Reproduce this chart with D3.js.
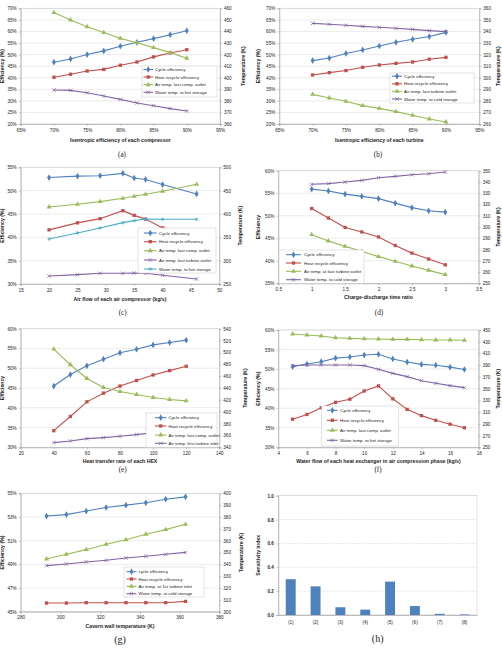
<!DOCTYPE html>
<html><head><meta charset="utf-8">
<script src="https://cdn.jsdelivr.net/npm/d3@7"></script>
<style>
body{margin:0;background:#fff}
svg{display:block}
text{font-family:"Liberation Sans",Arial,sans-serif;fill:#222}
</style></head><body>
<svg id="c" width="502" height="652"></svg>
<script>
// ---------- DATA ----------
// (a) isentropic efficiency of each compressor
const aX = [70,72.5,75,77.5,80,82.5,85,87.5,90];
const aCycle = [46.7,48.1,50.0,51.6,53.6,55.3,56.9,58.6,60.3];
const aHeat = [40.2,41.5,42.9,43.6,45.4,46.8,49.0,50.7,52.1];
const aAirOut = [456.3,449.9,444.1,439.0,434.0,430.3,426.0,421.7,416.8];
const aWater = [389.4,389.1,387.0,384.2,381.3,378.2,375.8,373.3,371.2];
// (b) isentropic efficiency of each turbine
const bX = [70,72.5,75,77.5,80,82.5,85,87.5,90];
const bCycle = [47.4,48.5,50.5,52.0,53.7,55.3,56.6,57.8,59.6];
const bHeat = [41.2,42.2,43.1,44.5,45.5,46.2,46.8,48.0,48.8];
const bAirOut = [285.6,282.5,279.6,275.9,273.5,270.7,267.5,264.3,261.7];
const bWater = [347.0,346.2,345.3,344.4,343.6,342.7,341.8,340.7,339.8];
// (c) air flow of each air compressor
const cX = [20,25,29,33,35,37,40,46];
const cCycle = [52.8,53.1,53.2,53.7,52.7,52.4,51.3,49.3];
const cHeat = [41.6,43.1,44.0,45.7,44.7,43.9,42.0,41.3];
const cAirComp = [415.0,420.7,426.4,433.6,437.9,442.1,448.6,463.6];
const cAirTurb = [267.1,270.0,272.9,272.9,273.6,272.9,268.6,260.7];
const cWater = [346.4,359.3,370.0,381.4,385.7,389.3,388.6,388.6];
// (d) charge-discharge time ratio
const dX = [1,1.25,1.5,1.75,2,2.25,2.5,2.75,3];
const dCycle = [55.9,55.5,54.8,54.3,53.8,52.8,51.8,51.1,50.8];
const dHeat = [51.6,49.5,47.4,46.4,45.3,43.4,41.7,40.4,39.1];
const dAirOut = [293.2,287.6,282.8,278.4,273.7,269.5,265.4,261.5,257.7];
const dWater = [337.9,338.5,339.9,341.4,343.8,345.0,346.4,347.3,348.8];
// (e) heat transfer rate of each HEX
const eX = [40,50,60,70,80,90,100,110,120];
const eCycle = [45.5,48.4,50.6,52.3,53.9,54.8,55.9,56.5,57.1];
const eHeat = [34.2,37.8,41.5,43.7,45.5,46.9,48.3,49.4,50.5];
const eAirComp = [505.6,479.2,456.1,440.8,434.1,429.0,424.0,420.6,418.3];
const eAirTurb = [347.9,350.7,354.6,356.3,358.6,361.4,364.8,365.9,367.6];
// (f) water flow of each heat exchanger in air compression phase
const fX = [5,6,7,8,9,10,11,12,13,14,15,16,17];
const fCycle = [50.6,51.3,51.9,52.8,53.1,53.6,53.8,52.6,51.8,51.2,51.0,50.5,49.9];
const fHeat = [37.2,38.4,40.1,41.5,42.3,44.4,45.7,42.4,39.7,38.1,36.9,35.9,35.0];
const fAirOut = [443.2,441.5,439.8,436.9,435.8,435.2,434.7,434.1,434.1,433.5,433.0,433.0,432.4];
const fWater = [389.2,390.3,390.3,390.3,390.3,389.2,383.0,376.1,370.5,363.6,359.1,355.1,351.7];
// (g) cavern wall temperature
const gX = [293,303,313,323,333,343,353,363];
const gCycle = [53.08,53.2,53.5,53.8,54.0,54.2,54.5,54.7];
const gHeat = [45.73,45.73,45.76,45.76,45.76,45.76,45.76,45.87];
const gAirIn = [344.5,348.5,352.4,356.9,360.8,365.4,369.3,373.8];
const gWater = [338.9,340.3,342.0,343.4,345.4,346.8,348.5,350.1];
// (h) sensitivity index
const hCats = ["(1)","(2)","(3)","(4)","(5)","(6)","(7)","(8)"];
const hVals = [0.30,0.24,0.065,0.045,0.28,0.075,0.01,0.005];

// ---------- STYLE ----------
const BLUE="#4f81bd", RED="#c0504d", GREEN="#9bbb59", PURPLE="#8064a2", CYAN="#4bacc6";
const svg = d3.select("#c");
const TF = 4.6; // tick font
const AF = 5.2; // axis title font
const LF = 4.4; // legend font

function marker(g, type, color, x, y){
  if(type==="diamond") g.append("path").attr("d", d3.symbol(d3.symbolDiamond, 13)()).attr("transform",`translate(${x},${y})`).attr("fill",color);
  else if(type==="square") g.append("path").attr("d", d3.symbol(d3.symbolSquare, 11)()).attr("transform",`translate(${x},${y})`).attr("fill",color);
  else if(type==="triangle") g.append("path").attr("d", d3.symbol(d3.symbolTriangle, 11)()).attr("transform",`translate(${x},${y})`).attr("fill",color);
  else if(type==="x") g.append("path").attr("d", d3.symbol(d3.symbolX, 10)()).attr("transform",`translate(${x},${y})`).attr("fill","none").attr("stroke",color).attr("stroke-width",0.7);
  else if(type==="star") g.append("path").attr("d", d3.symbol(d3.symbolAsterisk, 10)()).attr("transform",`translate(${x},${y})`).attr("fill","none").attr("stroke",color).attr("stroke-width",0.7);
}

function panel(p){
  const g = svg.append("g");
  const x = d3.scaleLinear().domain(p.xDom).range([p.L,p.R]);
  const yl = d3.scaleLinear().domain(p.lDom).range([p.B,p.T]);
  const yr = d3.scaleLinear().domain(p.rDom).range([p.B,p.T]);
  // gridlines
  g.selectAll(".gl").data(p.lTicks).join("line")
    .attr("x1",p.L).attr("x2",p.R).attr("y1",d=>yl(d)).attr("y2",d=>yl(d))
    .attr("stroke","#d9d9d9").attr("stroke-width",0.5);
  g.append("rect").attr("x",p.L).attr("y",p.T).attr("width",p.R-p.L).attr("height",p.B-p.T)
    .attr("fill","none").attr("stroke","#c8c8c8").attr("stroke-width",0.5);
  // axes
  const ax = d3.axisBottom(x).tickValues(p.xTicks).tickFormat(p.xFmt).tickSize(2).tickPadding(2.5);
  const al = d3.axisLeft(yl).tickValues(p.lTicks).tickFormat(p.lFmt).tickSize(2).tickPadding(2);
  const ar = d3.axisRight(yr).tickValues(p.rTicks).tickFormat(d3.format("d")).tickSize(2).tickPadding(2);
  [[ax,`translate(0,${p.B})`],[al,`translate(${p.L},0)`],[ar,`translate(${p.R},0)`]].forEach(([a,t])=>{
    const ag = g.append("g").attr("transform",t).call(a);
    ag.select(".domain").attr("stroke","#9a9a9a").attr("stroke-width",0.6);
    ag.selectAll(".tick line").attr("stroke","#9a9a9a").attr("stroke-width",0.5);
    ag.selectAll("text").attr("font-size",TF).attr("fill","#333").style("font-family","'Liberation Sans',Arial");
  });
  // axis titles
  g.append("text").attr("x",(p.L+p.R)/2).attr("y",p.xTitleY).attr("text-anchor","middle")
    .attr("font-size",AF).attr("font-weight","bold").text(p.xTitle);
  g.append("text").attr("transform",`translate(${p.lTitleX},${(p.T+p.B)/2}) rotate(-90)`).attr("text-anchor","middle")
    .attr("font-size",AF).attr("font-weight","bold").text(p.lTitle);
  g.append("text").attr("transform",`translate(${p.rTitleX},${(p.T+p.B)/2}) rotate(-90)`).attr("text-anchor","middle")
    .attr("font-size",AF).attr("font-weight","bold").text("Temperature (K)");
  // series
  p.series.forEach(s=>{
    const ys = s.axis==="L"?yl:yr;
    const pts = p.xs.map((xv,i)=>[x(xv), ys(s.v[i])]);
    g.append("path").attr("d", d3.line()(pts)).attr("fill","none").attr("stroke",s.c).attr("stroke-width",1.1);
    pts.forEach(q=>marker(g,s.m,s.c,q[0],q[1]));
  });
  // legend
  const lg = p.leg;
  g.append("rect").attr("x",lg.x0).attr("y",lg.y0).attr("width",lg.x1-lg.x0).attr("height",lg.y1-lg.y0)
    .attr("fill","#fff").attr("stroke","#c8c8c8").attr("stroke-width",0.5);
  p.series.forEach((s,i)=>{
    const yy = lg.ys[i];
    g.append("line").attr("x1",lg.lx0).attr("x2",lg.lx1).attr("y1",yy).attr("y2",yy).attr("stroke",s.c).attr("stroke-width",1.1);
    marker(g,s.m,s.c,(lg.lx0+lg.lx1)/2,yy);
    g.append("text").attr("x",lg.tx).attr("y",yy).attr("dy","0.35em").attr("font-size",LF).attr("fill","#333").text(s.name);
  });
  // caption
  g.append("text").attr("x",p.capX).attr("y",p.capY).attr("text-anchor","middle").attr("dy","0.35em")
    .attr("font-size",p.capF||7.2).style("font-family","'Liberation Serif','Times New Roman',serif").text(p.cap);
}

const pct = d=>d+"%";
const r5 = (a,b,s)=>d3.range(a,b+s/2,s);

panel({L:20.7,R:220,T:8.3,B:124, xs:aX, xDom:[65,95], xTicks:r5(65,95,5), xFmt:pct,
  lDom:[20,70], lTicks:r5(20,70,5), lFmt:pct, rDom:[360,460], rTicks:r5(360,460,10),
  xTitle:"Isentropic efficiency of each compressor", xTitleY:141.5, lTitle:"Efficiency (%)", lTitleX:4, rTitleX:244.5,
  series:[{name:"Cycle efficiency",v:aCycle,axis:"L",c:BLUE,m:"diamond"},
          {name:"Heat recycle efficiency",v:aHeat,axis:"L",c:RED,m:"square"},
          {name:"Air temp. last comp. outlet",v:aAirOut,axis:"R",c:GREEN,m:"triangle"},
          {name:"Water temp. to hot storage",v:aWater,axis:"R",c:PURPLE,m:"x"}],
  leg:{x0:142,x1:217,y0:66,y1:97,ys:[69.5,77,84.7,92.3],lx0:143.5,lx1:153,tx:155},
  cap:"(a)",capX:122,capY:154});

panel({L:279.3,R:479.3,T:8.3,B:124, xs:bX, xDom:[65,95], xTicks:r5(65,95,5), xFmt:pct,
  lDom:[20,70], lTicks:r5(20,70,5), lFmt:pct, rDom:[260,360], rTicks:r5(260,360,10),
  xTitle:"Isentropic efficiency of each turbine", xTitleY:141.5, lTitle:"Efficiency (%)", lTitleX:259.5, rTitleX:499.5,
  series:[{name:"Cycle efficiency",v:bCycle,axis:"L",c:BLUE,m:"diamond"},
          {name:"Heat recycle efficiency",v:bHeat,axis:"L",c:RED,m:"square"},
          {name:"Air temp. last turbine  outlet",v:bAirOut,axis:"R",c:GREEN,m:"triangle"},
          {name:"Water temp. to cold storage",v:bWater,axis:"R",c:PURPLE,m:"x"}],
  leg:{x0:390,x1:474,y0:73,y1:103,ys:[76.2,83.8,91.3,99],lx0:392,lx1:402,tx:404},
  cap:"(b)",capX:378,capY:154});

panel({L:20.7,R:219.3,T:167.3,B:284, xs:cX, xDom:[15,50], xTicks:r5(15,50,5), xFmt:d3.format("d"),
  lDom:[30,55], lTicks:r5(30,55,5), lFmt:pct, rDom:[250,500], rTicks:r5(250,500,50),
  xTitle:"Air flow of each air compressor (kg/s)", xTitleY:300.5, lTitle:"Efficiency (%)", lTitleX:4, rTitleX:241.5,
  series:[{name:"Cycle efficiency",v:cCycle,axis:"L",c:BLUE,m:"diamond"},
          {name:"Heat recycle efficiency",v:cHeat,axis:"L",c:RED,m:"square"},
          {name:"Air temp. last comp. outlet",v:cAirComp,axis:"R",c:GREEN,m:"triangle"},
          {name:"Air temp. last turbine outlet",v:cAirTurb,axis:"R",c:PURPLE,m:"x"},
          {name:"Water temp. to hot storage",v:cWater,axis:"R",c:CYAN,m:"star"}],
  leg:{x0:138,x1:216,y0:228,y1:273,ys:[233,241.7,250.7,260,269],lx0:144,lx1:156.5,tx:159},
  cap:"(c)",capX:122.7,capY:312.7});

panel({L:278.3,R:478.7,T:170.7,B:283.3, xs:dX, xDom:[0.5,3.5], xTicks:r5(0.5,3.5,0.5), xFmt:d3.format("~g"),
  lDom:[35,60], lTicks:r5(35,60,5), lFmt:pct, rDom:[250,350], rTicks:r5(250,350,10),
  xTitle:"Charge-discharge time ratio", xTitleY:298.5, lTitle:"Efficiency", lTitleX:260, rTitleX:499.5,
  series:[{name:"Cycle efficiency",v:dCycle,axis:"L",c:BLUE,m:"diamond"},
          {name:"Heat recycle efficiency",v:dHeat,axis:"L",c:RED,m:"square"},
          {name:"Air temp. at last turbine  outlet",v:dAirOut,axis:"R",c:GREEN,m:"triangle"},
          {name:"Water temp. to cold storage",v:dWater,axis:"R",c:PURPLE,m:"x"}],
  leg:{x0:279,x1:364,y0:250,y1:283.3,ys:[254.7,263,271.3,279.7],lx0:286,lx1:301,tx:304},
  cap:"(d)",capX:379,capY:312.7});

panel({L:20.7,R:219.3,T:328.7,B:447.3, xs:eX, xDom:[20,140], xTicks:r5(20,140,20), xFmt:d3.format("d"),
  lDom:[30,60], lTicks:r5(30,60,5), lFmt:pct, rDom:[340,540], rTicks:r5(340,540,20),
  xTitle:"Heat transfer rate of each HEX", xTitleY:462.5, lTitle:"Efficiency", lTitleX:4, rTitleX:246.5,
  series:[{name:"Cycle efficiency",v:eCycle,axis:"L",c:BLUE,m:"diamond"},
          {name:"Heat recycle efficiency",v:eHeat,axis:"L",c:RED,m:"square"},
          {name:"Air temp. last comp. outlet",v:eAirComp,axis:"R",c:GREEN,m:"triangle"},
          {name:"Air temp. first turbine inlet",v:eAirTurb,axis:"R",c:PURPLE,m:"x"}],
  leg:{x0:146,x1:217,y0:413,y1:447.3,ys:[417.7,426,435,443.3],lx0:155,lx1:166.5,tx:168.5},
  cap:"(e)",capX:122.7,capY:469.5});

panel({L:278.3,R:478.7,T:330,B:447.3, xs:fX, xDom:[4,18], xTicks:r5(4,18,2), xFmt:d3.format("d"),
  lDom:[30,60], lTicks:r5(30,60,5), lFmt:pct, rDom:[250,450], rTicks:r5(250,450,20),
  xTitle:"Water flow of each heat exchanger in air compression phase (kg/s)", xTitleY:463, lTitle:"Efficiency (%)", lTitleX:259.5, rTitleX:499.5,
  series:[{name:"Cycle efficiency",v:fCycle,axis:"L",c:BLUE,m:"diamond"},
          {name:"Heat recycle efficiency",v:fHeat,axis:"L",c:RED,m:"square"},
          {name:"Air temp. last comp. outlet",v:fAirOut,axis:"R",c:GREEN,m:"triangle"},
          {name:"Water temp. to hot storage",v:fWater,axis:"R",c:PURPLE,m:"x"}],
  leg:{x0:321.7,x1:398.7,y0:406,y1:446,ys:[410.3,420.3,430.3,440.3],lx0:327,lx1:337.7,tx:340},
  cap:"(f)",capX:378,capY:469.5});

panel({L:20.7,R:219.3,T:493.3,B:611.7, xs:gX, xDom:[280,380], xTicks:r5(280,380,20), xFmt:d3.format("d"),
  lDom:[45,55], lTicks:r5(45,55,2), lFmt:pct, rDom:[300,400], rTicks:r5(300,400,10),
  xTitle:"Cavern wall temperature (K)", xTitleY:628, lTitle:"Efficiency (%)", lTitleX:4, rTitleX:242.5,
  series:[{name:"cycle efficiency",v:gCycle,axis:"L",c:BLUE,m:"diamond"},
          {name:"Heat recycle efficiency",v:gHeat,axis:"L",c:RED,m:"square"},
          {name:"Air temp. at 1st turbine inlet",v:gAirIn,axis:"R",c:GREEN,m:"triangle"},
          {name:"Water temp. at cold storage",v:gWater,axis:"R",c:PURPLE,m:"x"}],
  leg:{x0:124,x1:204,y0:567,y1:597,ys:[571.7,579,586.3,593.7],lx0:126.5,lx1:136.5,tx:138.5},
  cap:"(g)",capX:120,capY:639.5,capF:10});

// (h) bar chart
(function(){
  const L=278.3,R=477,T=495.7,B=615;
  const g = svg.append("g");
  const x = d3.scaleBand().domain(hCats).range([L,R]).paddingInner(0.6).paddingOuter(0.3);
  const y = d3.scaleLinear().domain([0,1]).range([B,T]);
  const ticks = r5(0,1,0.2);
  g.selectAll(".gl").data(ticks).join("line").attr("x1",L).attr("x2",R).attr("y1",d=>y(d)).attr("y2",d=>y(d))
    .attr("stroke","#cfcfcf").attr("stroke-width",0.5).attr("stroke-dasharray","1.5,0.8");
  g.append("rect").attr("x",L).attr("y",T).attr("width",R-L).attr("height",B-T)
    .attr("fill","none").attr("stroke","#c8c8c8").attr("stroke-width",0.5);
  g.selectAll(".bar").data(hVals).join("rect")
    .attr("x",(d,i)=>x(hCats[i])).attr("width",x.bandwidth())
    .attr("y",d=>y(d)).attr("height",d=>B-y(d)).attr("fill","#4f81bd");
  const ay = g.append("g").attr("transform",`translate(${L},0)`).call(d3.axisLeft(y).tickValues(ticks).tickFormat(d3.format(".1f")).tickSize(2).tickPadding(2.5));
  const ax = g.append("g").attr("transform",`translate(0,${B})`).call(d3.axisBottom(x).tickSize(0).tickPadding(6));
  [ay,ax].forEach(a=>{
    a.select(".domain").attr("stroke","#9a9a9a").attr("stroke-width",0.6);
    a.selectAll(".tick line").attr("stroke","#9a9a9a").attr("stroke-width",0.5);
    a.selectAll("text").attr("font-size",TF).attr("fill","#333").style("font-family","'Liberation Sans',Arial");
  });
  ay.selectAll("text").attr("font-weight","bold");
  g.append("text").attr("transform",`translate(259.5,${(T+B)/2}) rotate(-90)`).attr("text-anchor","middle")
    .attr("font-size",AF).attr("font-weight","bold").text("Sensitivity index");
  g.append("text").attr("x",377.7).attr("y",638.5).attr("text-anchor","middle").attr("dy","0.35em")
    .attr("font-size",10).style("font-family","'Liberation Serif','Times New Roman',serif").text("(h)");
})();
</script>
</body></html>
